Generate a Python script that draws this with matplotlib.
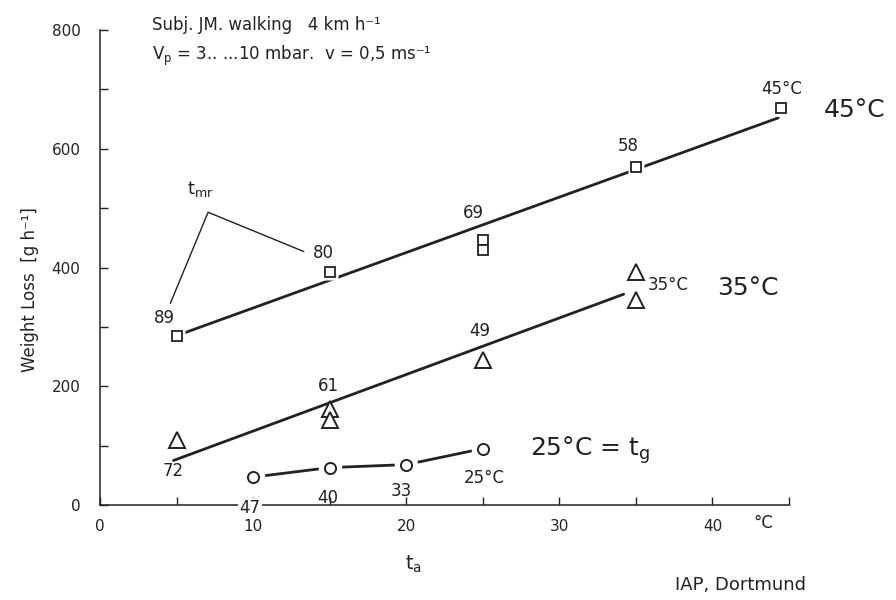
import matplotlib
matplotlib.use('Agg')
import matplotlib.pyplot as plt

plt.rcParams['font.family'] = ['Liberation Sans Narrow', 'DejaVu Sans']
plt.rcParams['mathtext.fontset'] = 'custom'
plt.rcParams['mathtext.rm'] = 'Liberation Sans Narrow'
plt.rcParams['mathtext.it'] = 'Liberation Sans Narrow'

INK = '#222222'

# Weight loss vs air temperature, three globe temperatures
t45 = [5, 15, 25, 25, 35, 44.5]
w45 = [285, 393, 447, 430, 570, 668]
fit45_t = [5.2, 44.3]
fit45_w = [287, 652]

t35 = [5, 15, 15, 25, 35, 35]
w35 = [110, 162, 143, 245, 393, 345]
fit35_t = [4.8, 34.2]
fit35_w = [75, 355]

t25 = [10, 15, 20, 25]
w25 = [47, 63, 68, 95]

# mean radiant temperature labels (text, x, y)
tmr45 = [('89', 4.2, 300), ('80', 14.6, 410), ('69', 24.4, 477),
         ('58', 34.5, 590), ('45°C', 44.5, 686)]
tmr35 = [('72', 4.8, 42), ('61', 14.9, 186), ('49', 24.8, 278),
         ('35°C', 35.8, 370)]
tmr25 = [('47', 9.8, -5), ('40', 14.9, 12), ('33', 19.7, 24),
         ('25°C', 25.1, 46)]

tmr_arm_t = [4.6, 7.06, 13.3]
tmr_arm_w = [340, 493, 427]

fig = plt.figure(figsize=(8.96, 6), dpi=100)
ax = fig.add_axes([100 / 896, 95 / 600, 689 / 896, 475 / 600])
ax.set_xlim(0, 45)
ax.set_ylim(0, 800)

for s in ['top', 'right']:
    ax.spines[s].set_visible(False)
for s in ['left', 'bottom']:
    ax.spines[s].set_linewidth(1.1)
    ax.spines[s].set_color(INK)

ax.set_xticks([0, 10, 20, 30, 40])
ax.set_xticks([5, 15, 25, 35, 45], minor=True)
ax.set_yticks([0, 200, 400, 600, 800])
ax.set_yticks([100, 300, 500, 700], minor=True)
ax.tick_params(which='both', direction='in', length=6, width=1.0, color=INK,
               labelcolor=INK, labelsize=11)
ax.tick_params(axis='y', pad=14)
ax.tick_params(axis='x', pad=10)

# regression lines
ax.plot(fit45_t, fit45_w, color=INK, lw=2.0, solid_capstyle='round')
ax.plot(fit35_t, fit35_w, color=INK, lw=2.0, solid_capstyle='round')
ax.plot(t25, w25, color=INK, lw=2.0, zorder=2)

# white halos break the lines around the markers
ax.plot(t25, w25, 'o', ms=17, mfc='white', mec='none', zorder=3)
ax.plot(t45, w45, 's', ms=12, mfc='white', mec='none', zorder=3)

ax.plot(t45, w45, 's', ms=7, mfc='white', mec=INK, mew=1.3, zorder=4)
ax.plot(t35, w35, '^', ms=11, mfc='white', mec=INK, mew=1.4, zorder=4)
ax.plot(t25, w25, 'o', ms=8, mfc='white', mec=INK, mew=1.4, zorder=4)

for txt, x, y in tmr45:
    ax.text(x, y, txt, ha='center', va='bottom', fontsize=12, color=INK)
for txt, x, y in tmr35:
    ha = 'left' if '°' in txt else 'center'
    ax.text(x, y, txt, ha=ha, va='center' if ha == 'left' else 'bottom',
            fontsize=12, color=INK)
for txt, x, y in tmr25:
    bbox = dict(fc='white', ec='none', pad=1) if txt == '47' else None
    ax.text(x, y, txt, ha='center', va='center', fontsize=12, color=INK,
            bbox=bbox, clip_on=False, zorder=5)

ax.plot(tmr_arm_t, tmr_arm_w, color=INK, lw=1.0)
ax.text(5.7, 532, r't$_{\mathregular{mr}}$', fontsize=13, color=INK,
        va='center', ha='left')

# globe temperature labels
ax.text(47.3, 665, '45°C', fontsize=18, color=INK, va='center', ha='left',
        clip_on=False)
ax.text(40.3, 365, '35°C', fontsize=18, color=INK, va='center', ha='left')
ax.text(28.1, 92, r'25°C = t$_{\mathregular{g}}$', fontsize=18, color=INK,
        va='center', ha='left')

ax.text(3.4, 808, 'Subj. JM. walking   4 km h⁻¹', fontsize=12, color=INK,
        va='center', ha='left', clip_on=False)
ax.text(3.4, 757, r'V$_{\mathregular{p}}$ = 3.. ...10 mbar.  v = 0,5 ms⁻¹',
        fontsize=12, color=INK, va='center', ha='left')

ax.text(-4.6, 362, 'Weight Loss  [g h⁻¹]', fontsize=12, color=INK,
        rotation=90, ha='center', va='center', clip_on=False)
ax.text(20.5, -100, r't$_{\mathregular{a}}$', fontsize=14, color=INK,
        ha='center', va='center', clip_on=False)
ax.text(43.3, -30, '°C', fontsize=12, color=INK, ha='center', va='center',
        clip_on=False)
ax.text(41.8, -135, 'IAP, Dortmund', fontsize=13, color=INK, ha='center',
        va='center', clip_on=False)

fig.savefig('out.png', dpi=100, facecolor='white')
